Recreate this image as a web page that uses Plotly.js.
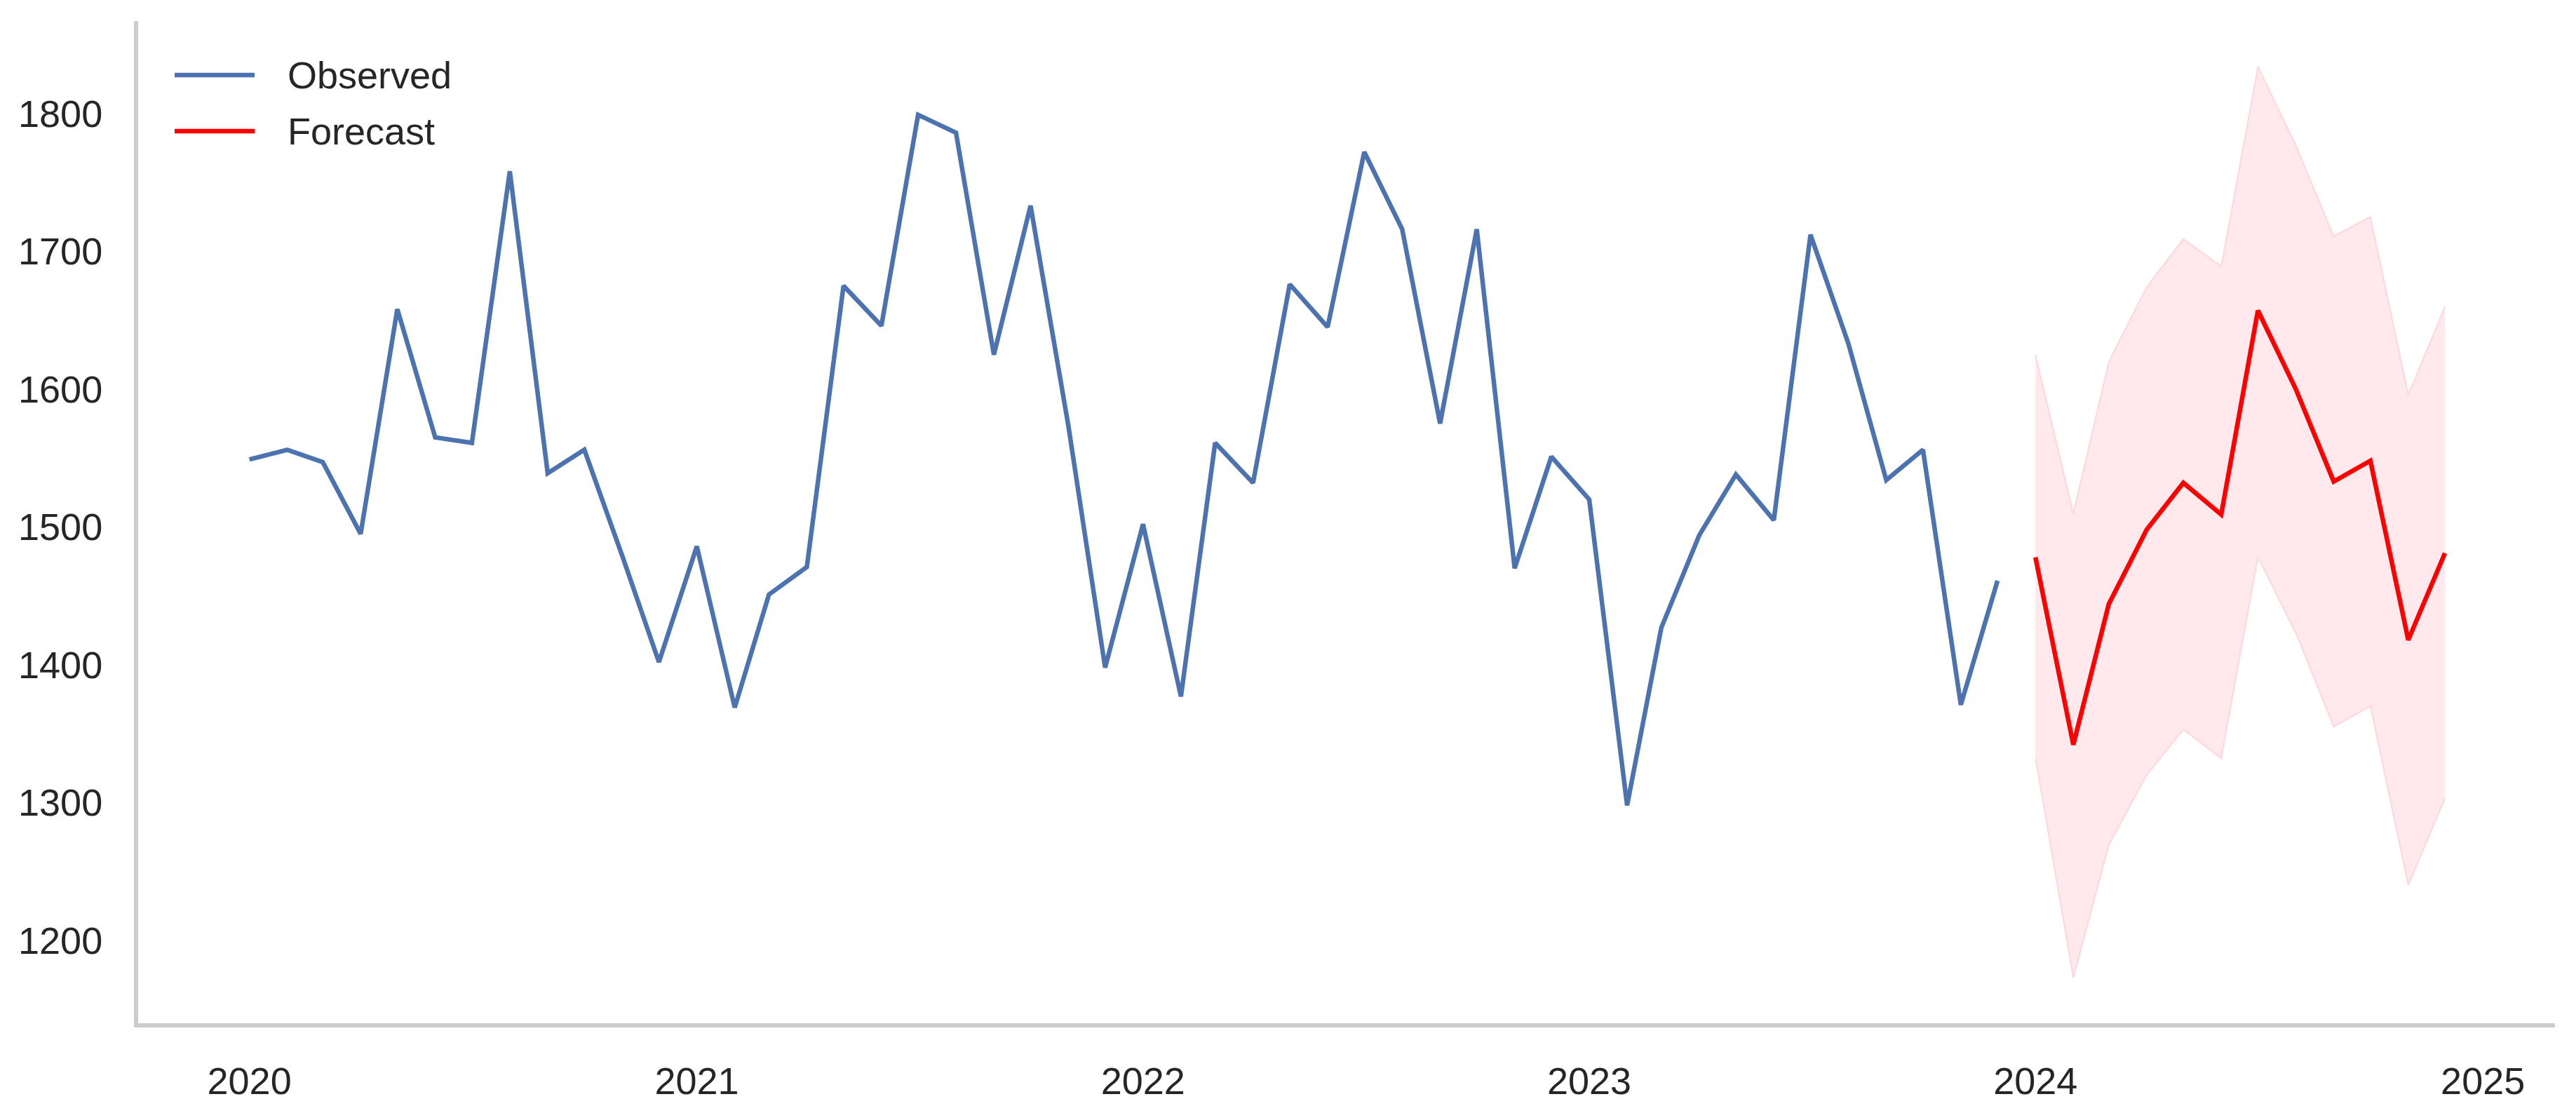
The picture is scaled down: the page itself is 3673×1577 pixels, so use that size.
<!DOCTYPE html>
<html>
<head>
<meta charset="utf-8">
<script src="https://cdn.plot.ly/plotly-3.0.1.min.js"></script>
<style>
  html, body { margin: 0; padding: 0; background: #fff; }
  #chart { width: 3673px; height: 1577px; }
</style>
</head>
<body>
<div id="chart"></div>
<script>
// Observed monthly series, Jan 2020 .. Dec 2023
const observedStart = [2020, 1];
const observedValues = [
  1549, 1556, 1547, 1495, 1658, 1565, 1561, 1758, 1539, 1556, 1479, 1402,
  1486, 1369, 1451, 1471, 1675, 1646, 1799, 1786, 1625, 1733, 1573, 1398,
  1502, 1377, 1561, 1532, 1676, 1645, 1772, 1716, 1575, 1716, 1470, 1551,
  1520, 1298, 1427, 1494, 1538, 1505, 1712, 1633, 1534, 1556, 1371, 1461
];

// Forecast, Jan 2024 .. Dec 2024, with confidence bounds
const forecastStart = [2024, 1];
const forecastValues = [1478, 1342, 1444, 1498, 1532, 1509, 1657, 1600, 1533, 1548, 1418, 1481];
const forecastUpper  = [1625, 1510, 1620, 1674, 1709, 1689, 1834, 1777, 1711, 1725, 1596, 1660];
const forecastLower  = [1332, 1173, 1269, 1320, 1353, 1332, 1478, 1423, 1355, 1370, 1240, 1303];

const seriesNames = ['Observed', 'Forecast'];
const seriesColors = ['#4c72b0', '#ff0000'];

function monthDates(start, n) {
    const out = [];
    for (let i = 0; i < n; i++) {
        const m = start[1] - 1 + i;
        const y = start[0] + Math.floor(m / 12);
        const mm = (m % 12) + 1;
        out.push(`${y}-${String(mm).padStart(2, '0')}-01`);
    }
    return out;
}

const obsX = monthDates(observedStart, observedValues.length);
const fcX = monthDates(forecastStart, forecastValues.length);

const font = '"Liberation Sans", Arial, sans-serif';
const bandEdge = 'rgba(255,182,193,0.45)';
const lineW = 6.5;

const traces = [
    {
        x: fcX, y: forecastLower,
        mode: 'lines', line: { color: bandEdge, width: 2 },
        showlegend: false, hoverinfo: 'skip'
    },
    {
        x: fcX, y: forecastUpper,
        mode: 'lines', line: { color: bandEdge, width: 2 },
        fill: 'tonexty', fillcolor: 'rgba(255,182,193,0.3)',
        showlegend: false, hoverinfo: 'skip'
    },
    {
        x: obsX, y: observedValues, name: seriesNames[0],
        mode: 'lines', line: { color: seriesColors[0], width: lineW }
    },
    {
        x: fcX, y: forecastValues, name: seriesNames[1],
        mode: 'lines', line: { color: seriesColors[1], width: lineW }
    }
];

// matplotlib-style legend: long line samples, drawn in paper coords
const legendShapes = [];
const legendNotes = [];
const legendRows = [107, 187];   // pixel rows from the top of the figure
const plotTop = 30, plotH = 1577 - 30 - 118, plotL = 197, plotW = 3673 - 197 - 30;
seriesNames.forEach((name, i) => {
    const py = 1 - (legendRows[i] - plotTop) / plotH;
    legendShapes.push({
        type: 'line', xref: 'paper', yref: 'paper',
        x0: (249 - plotL) / plotW, x1: (363 - plotL) / plotW, y0: py, y1: py,
        line: { color: seriesColors[i], width: lineW }
    });
    legendNotes.push({
        xref: 'paper', yref: 'paper',
        x: (408 - plotL) / plotW, y: py, xanchor: 'left', yanchor: 'middle',
        text: name, showarrow: false,
        font: { family: font, size: 54, color: '#262626' }
    });
});

const layout = {
    width: 3673,
    height: 1577,
    margin: { l: 197, r: 30, t: 30, b: 118 },
    paper_bgcolor: '#ffffff',
    plot_bgcolor: '#ffffff',
    showlegend: false,
    font: { family: font, size: 54, color: '#262626' },
    xaxis: {
        type: 'date',
        range: ['2019-10-02', '2025-03-01'],
        tick0: '2020-01-01',
        dtick: 'M12',
        tickformat: '%Y',
        showgrid: false,
        zeroline: false,
        showline: true,
        linecolor: '#cccccc',
        linewidth: 6,
        ticks: '',
        ticklabelstandoff: 30,
        tickfont: { family: font, size: 54, color: '#262626' }
    },
    yaxis: {
        range: [1140, 1867],
        tickvals: [1200, 1300, 1400, 1500, 1600, 1700, 1800],
        showgrid: false,
        zeroline: false,
        showline: true,
        linecolor: '#cccccc',
        linewidth: 6,
        ticks: '',
        ticklabelstandoff: 34,
        tickfont: { family: font, size: 54, color: '#262626' }
    },
    shapes: legendShapes,
    annotations: legendNotes
};

Plotly.newPlot('chart', traces, layout, { displayModeBar: false, responsive: false });
</script>
</body>
</html>
